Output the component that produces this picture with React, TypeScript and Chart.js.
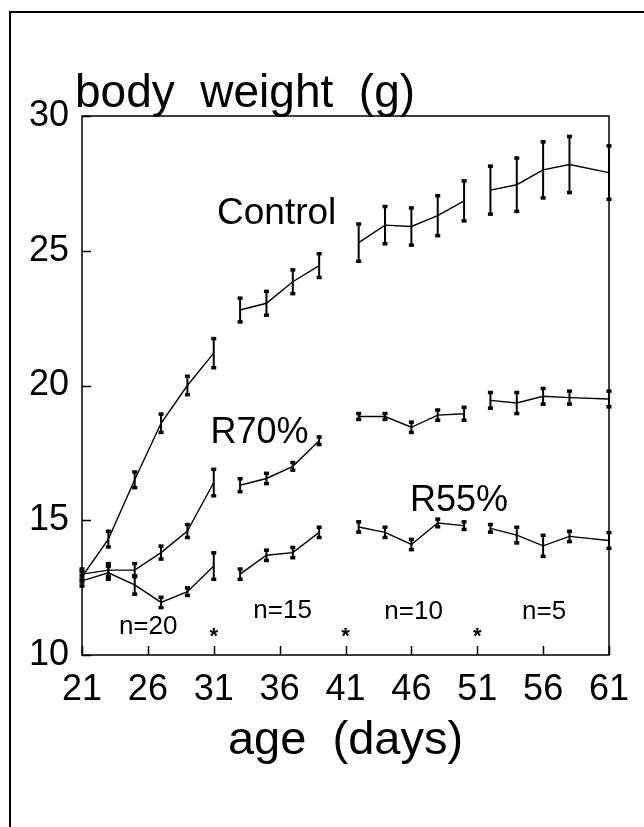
import React, { useEffect, useRef } from 'react';
import { Chart, registerables } from 'chart.js';

Chart.register(...registerables);

// ---- data ----
const days = [21, 23, 25, 27, 29, 31, 33, 35, 37, 39, 42, 44, 46, 48, 50, 52, 54, 56, 58, 61];
// index where each measurement block (n=20, n=15, n=10, n=5) begins
const blockStarts = [0, 6, 10, 15];

const controlMean = [12.9, 14.3, 16.5, 18.6, 20.0, 21.2, 22.8, 23.05, 23.85, 24.45, 25.3, 25.95, 25.9, 26.3, 26.85, 27.25, 27.45, 28.0, 28.2, 27.9];
const controlSE = [0.2, 0.3, 0.3, 0.35, 0.35, 0.55, 0.45, 0.45, 0.45, 0.45, 0.7, 0.7, 0.7, 0.75, 0.75, 0.9, 1.0, 1.05, 1.05, 1.0];

const r70Mean = [13.0, 13.15, 13.15, 13.8, 14.6, 16.4, 16.3, 16.55, 17.0, 17.95, 18.85, 18.85, 18.45, 18.9, 18.95, 19.45, 19.35, 19.6, 19.55, 19.5];
const r70SE = [0.2, 0.25, 0.25, 0.25, 0.25, 0.5, 0.25, 0.2, 0.15, 0.15, 0.12, 0.12, 0.2, 0.2, 0.25, 0.3, 0.4, 0.3, 0.25, 0.3];

const r55Mean = [12.75, 13.05, 12.6, 11.95, 12.35, 13.3, 13.0, 13.7, 13.8, 14.55, 14.75, 14.55, 14.1, 14.9, 14.8, 14.7, 14.45, 14.05, 14.4, 14.25];
const r55SE = [0.2, 0.25, 0.35, 0.2, 0.15, 0.5, 0.2, 0.2, 0.2, 0.2, 0.2, 0.2, 0.2, 0.15, 0.15, 0.15, 0.3, 0.4, 0.2, 0.3];

const xTicks = [21, 26, 31, 36, 41, 46, 51, 56, 61];
const yTicks = [10, 15, 20, 25, 30];

const titleText = 'body  weight  (g)';
const xAxisTitle = 'age  (days)';

const seriesLabels = ['Control', 'R70%', 'R55%'];
const blockLabels = ['n=20', 'n=15', 'n=10', 'n=5'];
const starDays = [31, 41, 51];

// label placements (data coordinates)
const seriesLabelPos = [
  { x: 31.25, y: 26.0, size: 37 },
  { x: 30.75, y: 17.85, size: 36 },
  { x: 45.9, y: 15.36, size: 36 },
];
const blockLabelPos = [
  { x: 23.8, y: 10.78 },
  { x: 34.0, y: 11.38 },
  { x: 43.95, y: 11.34 },
  { x: 54.4, y: 11.34 },
];
const starY = 10.82;

const FONT = '"Liberation Sans", Arial, Helvetica, sans-serif';

function buildData(mean: number[]) {
  const out: { x: number; y: number | null }[] = [];
  days.forEach((d, i) => {
    if (i > 0 && blockStarts.includes(i)) {
      out.push({ x: (days[i - 1] + d) / 2, y: null });
    }
    out.push({ x: d, y: mean[i] });
  });
  return out;
}

const groups = [
  { mean: controlMean, se: controlSE },
  { mean: r70Mean, se: r70SE },
  { mean: r55Mean, se: r55SE },
];

const overlayPlugin = {
  id: 'overlay',
  afterDatasetsDraw(chart: any) {
    const { ctx, chartArea: a, scales } = chart;
    const xs = scales.x;
    const ys = scales.y;
    ctx.save();
    ctx.strokeStyle = '#000';
    ctx.fillStyle = '#000';

    // plot box
    ctx.lineWidth = 1.5;
    ctx.strokeRect(a.left, a.top, a.right - a.left, a.bottom - a.top);

    // inward tick marks
    ctx.beginPath();
    xTicks.forEach((v) => {
      const px = Math.round(xs.getPixelForValue(v)) + 0.5;
      ctx.moveTo(px, a.bottom);
      ctx.lineTo(px, a.bottom - 9);
    });
    yTicks.forEach((v) => {
      const py = Math.round(ys.getPixelForValue(v)) + 0.5;
      ctx.moveTo(a.left, py);
      ctx.lineTo(a.left + 9, py);
    });
    ctx.stroke();

    // error bars
    groups.forEach((g) => {
      g.mean.forEach((m, i) => {
        const e = g.se[i];
        const px = xs.getPixelForValue(days[i]);
        const t = ys.getPixelForValue(m + e);
        const b = ys.getPixelForValue(m - e);
        ctx.lineWidth = 2;
        ctx.beginPath();
        ctx.moveTo(px, t);
        ctx.lineTo(px, b);
        ctx.stroke();
        ctx.fillRect(px - 2.5, t - 1.5, 5, 3.5);
        ctx.fillRect(px - 2.5, b - 2, 5, 3.5);
      });
    });

    // title
    ctx.textAlign = 'left';
    ctx.textBaseline = 'alphabetic';
    ctx.font = `46px ${FONT}`;
    ctx.fillText(titleText, 75, 107);

    // series labels
    seriesLabels.forEach((t, i) => {
      const p = seriesLabelPos[i];
      ctx.font = `${p.size}px ${FONT}`;
      ctx.fillText(t, xs.getPixelForValue(p.x), ys.getPixelForValue(p.y));
    });

    // n labels
    ctx.font = `26px ${FONT}`;
    blockLabels.forEach((t, i) => {
      const p = blockLabelPos[i];
      ctx.fillText(t, xs.getPixelForValue(p.x), ys.getPixelForValue(p.y));
    });

    // stars
    ctx.font = `bold 22px ${FONT}`;
    ctx.textAlign = 'center';
    ctx.textBaseline = 'middle';
    starDays.forEach((d) => {
      ctx.fillText('*', xs.getPixelForValue(d), ys.getPixelForValue(starY) + 4);
    });

    ctx.restore();
  },
};

export default function App() {
  const ref = useRef<HTMLCanvasElement | null>(null);

  useEffect(() => {
    if (!ref.current) return;
    const mk = (mean: number[], label: string) => ({
      label,
      data: buildData(mean),
      borderColor: '#000',
      borderWidth: 1.4,
      pointRadius: 0,
      spanGaps: false,
      tension: 0,
    });
    const chart = new Chart(ref.current, {
      type: 'line',
      data: {
        datasets: [
          mk(controlMean, 'Control'),
          mk(r70Mean, 'R70%'),
          mk(r55Mean, 'R55%'),
        ],
      },
      options: {
        animation: false,
        responsive: false,
        devicePixelRatio: 1,
        layout: { padding: { top: 116, right: 35, left: 0, bottom: 0 } },
        plugins: {
          legend: { display: false },
          tooltip: { enabled: false },
          title: { display: false },
        },
        scales: {
          x: {
            type: 'linear',
            min: 21,
            max: 61,
            grid: { display: false, drawTicks: false },
            border: { display: false },
            afterBuildTicks: (s: any) => {
              s.ticks = xTicks.map((v) => ({ value: v }));
            },
            afterFit: (s: any) => {
              s.height = 172;
            },
            ticks: {
              color: '#000',
              font: { family: FONT, size: 36 },
              padding: 13,
              maxRotation: 0,
              autoSkip: false,
              callback: (v: any) => String(v),
            },
            title: {
              display: true,
              text: xAxisTitle,
              color: '#000',
              font: { family: FONT, size: 47 },
              padding: { top: 0, bottom: 58 },
            },
          },
          y: {
            type: 'linear',
            min: 10,
            max: 30,
            grid: { display: false, drawTicks: false },
            border: { display: false },
            afterBuildTicks: (s: any) => {
              s.ticks = yTicks.map((v) => ({ value: v }));
            },
            afterFit: (s: any) => {
              s.width = 82;
            },
            ticks: {
              color: '#000',
              font: { family: FONT, size: 36 },
              padding: 13,
              autoSkip: false,
              callback: (v: any) => String(v),
            },
          },
        },
      },
      plugins: [overlayPlugin],
    } as any);
    return () => chart.destroy();
  }, []);

  return (
    <div style={{ position: 'fixed', left: 0, top: 0, width: 644, height: 827, background: '#fff' }}>
      <div
        style={{
          position: 'absolute',
          left: 9,
          top: 11,
          width: 635,
          height: 816,
          borderLeft: '2px solid #000',
          borderTop: '2px solid #000',
          boxSizing: 'border-box',
        }}
      />
      <canvas ref={ref} width={644} height={827} style={{ position: 'absolute', left: 0, top: 0, width: 644, height: 827 }} />
    </div>
  );
}
